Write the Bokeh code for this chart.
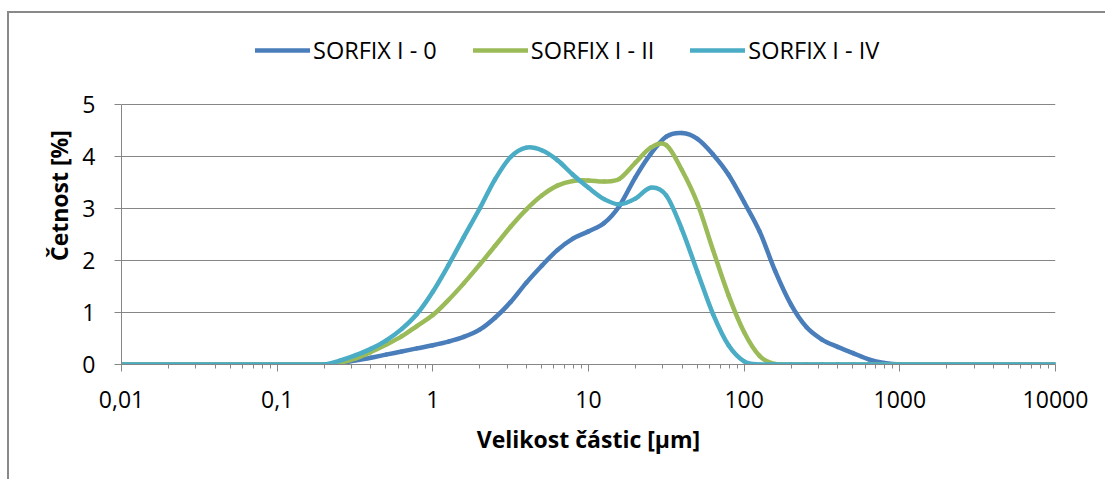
import math

from bokeh.plotting import figure
from bokeh.models import (Range1d, FixedTicker, CustomJSTickFormatter, Legend, LegendItem,
                          ColumnDataSource)
from bokeh.embed import file_html
from bokeh.resources import INLINE

# Particle size classes [µm] and frequency [%] for each sample
SIZE_UM = [0.01, 0.2, 0.25, 0.32, 0.4, 0.5, 0.63, 0.79, 1.0, 1.26, 1.58, 2.0, 2.51, 3.16,
           3.98, 5.01, 6.31, 7.94, 10.0, 12.6, 15.8, 20.0, 25.1, 31.6, 39.8, 50.1, 63.1,
           79.4, 100.0, 126, 158, 200, 251, 316, 398, 501, 631, 794, 1000, 10000]

SORFIX_0 = [0, 0, 0.02, 0.08, 0.13, 0.19, 0.25, 0.31, 0.37, 0.44, 0.53, 0.67, 0.90, 1.20,
            1.57, 1.90, 2.20, 2.42, 2.56, 2.72, 3.05, 3.60, 4.05, 4.38, 4.45, 4.34, 4.04,
            3.65, 3.12, 2.55, 1.80, 1.15, 0.72, 0.48, 0.34, 0.22, 0.10, 0.03, 0, 0]

SORFIX_II = [0, 0, 0.03, 0.12, 0.24, 0.38, 0.54, 0.74, 0.95, 1.24, 1.56, 1.92, 2.28, 2.65,
             2.98, 3.25, 3.44, 3.53, 3.54, 3.52, 3.57, 3.88, 4.17, 4.22, 3.74, 3.10, 2.20,
             1.33, 0.62, 0.16, 0.01, 0, 0, 0, 0, 0, 0, 0, 0, 0]

SORFIX_IV = [0, 0, 0.07, 0.18, 0.30, 0.46, 0.68, 0.97, 1.40, 1.91, 2.45, 3.00, 3.56, 3.99,
             4.17, 4.12, 3.93, 3.65, 3.40, 3.18, 3.08, 3.19, 3.40, 3.25, 2.60, 1.78, 0.97,
             0.37, 0.06, 0, 0, 0, 0, 0, 0, 0, 0, 0, 0, 0]

SERIES_NAMES = ["SORFIX I - 0", "SORFIX I - II", "SORFIX I - IV"]
SERIES_COLORS = ["#4A7EBB", "#9BBB59", "#4BACC6"]

X_TICKS = [0.01, 0.1, 1, 10, 100, 1000, 10000]
Y_TICKS = [0, 1, 2, 3, 4, 5]

FONT = "Open Sans"
GREY = "#868686"


def smooth_segments(xs, ys):
    """Cubic Hermite segments (as Bezier control points) in log-x space,
    giving a smoothed line through the measured points."""
    lx = [math.log10(v) for v in xs]
    n = len(xs)
    slopes = []
    for i in range(n):
        a, b = max(i - 1, 0), min(i + 1, n - 1)
        slopes.append((ys[b] - ys[a]) / (lx[b] - lx[a]))
    seg = dict(x0=[], y0=[], x1=[], y1=[], cx0=[], cy0=[], cx1=[], cy1=[])
    for i in range(n - 1):
        dx = lx[i + 1] - lx[i]
        seg["x0"].append(xs[i])
        seg["y0"].append(ys[i])
        seg["x1"].append(xs[i + 1])
        seg["y1"].append(ys[i + 1])
        seg["cx0"].append(10 ** (lx[i] + dx / 3))
        seg["cy0"].append(max(0.0, ys[i] + slopes[i] * dx / 3))
        seg["cx1"].append(10 ** (lx[i + 1] - dx / 3))
        seg["cy1"].append(max(0.0, ys[i + 1] - slopes[i + 1] * dx / 3))
    return seg


p = figure(width=1098, height=468, x_axis_type="log",
           x_range=Range1d(0.01, 10000), y_range=Range1d(0, 6.5),
           output_backend="svg", toolbar_location=None,
           min_border_left=112, min_border_right=52, min_border_top=13, min_border_bottom=117,
           margin=(11, 0, 0, 7),
           styles={"border-top": "2px solid #898989", "border-left": "2px solid #898989"})
p.outline_line_color = None
p.background_fill_color = "white"
p.border_fill_color = "white"

renderers = []
for vals, color in zip([SORFIX_0, SORFIX_II, SORFIX_IV], SERIES_COLORS):
    src = ColumnDataSource(smooth_segments(SIZE_UM, vals))
    r = p.bezier(x0="x0", y0="y0", x1="x1", y1="y1", cx0="cx0", cy0="cy0",
                 cx1="cx1", cy1="cy1", source=src, line_color=color, line_width=4.5,
                 line_cap="round", line_join="round")
    renderers.append(r)

# x axis: decades with minor ticks 2..9
minor = [m * d for d in X_TICKS[:-1] for m in range(2, 10)]
p.xaxis.ticker = FixedTicker(ticks=X_TICKS, minor_ticks=minor)
p.xaxis.formatter = CustomJSTickFormatter(code="return tick.toString().replace('.', ',');")
p.yaxis.ticker = FixedTicker(ticks=Y_TICKS)
p.yaxis.bounds = (0, 5)

for ax in (p.xaxis[0], p.yaxis[0]):
    ax.axis_line_color = GREY
    ax.axis_line_width = 1
    ax.major_tick_line_color = GREY
    ax.minor_tick_line_color = GREY
    ax.major_tick_in = 0
    ax.major_tick_out = 7
    ax.minor_tick_in = 0
    ax.minor_tick_out = 4
    ax.major_label_text_font = FONT
    ax.major_label_text_font_size = "23px"
    ax.major_label_text_color = "black"
    ax.axis_label_text_font = FONT
    ax.axis_label_text_font_size = "23px"
    ax.axis_label_text_font_style = "bold"
    ax.axis_label_text_color = "black"

p.yaxis.minor_tick_line_color = None
p.xaxis.axis_label = "Velikost částic [µm]"
p.yaxis.axis_label = "Četnost [%]"
p.xaxis.major_label_standoff = 19
p.yaxis.major_label_standoff = 19
p.xaxis.axis_label_standoff = 12
p.yaxis.axis_label_standoff = 4

p.xgrid.grid_line_color = None
p.ygrid.grid_line_color = GREY
p.ygrid.grid_line_width = 1

legend = Legend(
    items=[LegendItem(label=n, renderers=[r]) for n, r in zip(SERIES_NAMES, renderers)],
    orientation="horizontal", location=(134, 298),
    label_text_font=FONT, label_text_font_size="23.5px", label_text_color="black",
    glyph_width=55, glyph_height=24, label_standoff=3, spacing=36, padding=0,
    margin=0, border_line_color=None, background_fill_alpha=0,
)
p.add_layout(legend, "center")

open("out.html", "w").write(file_html(p, INLINE))
